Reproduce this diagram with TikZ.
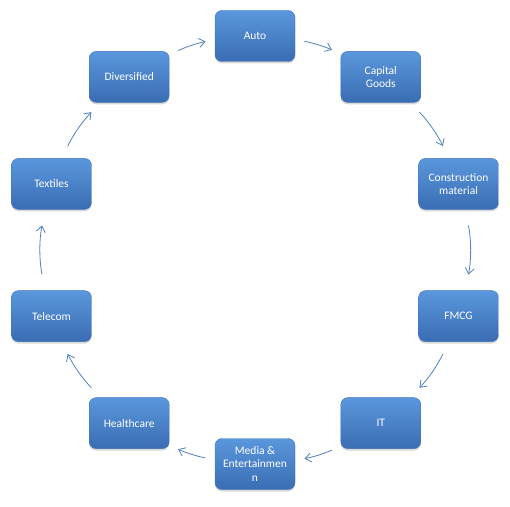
\documentclass[tikz,border=0pt]{standalone}
\usepackage{fontspec}
\setmainfont{Carlito}
\usetikzlibrary{arrows.meta, shadows}
\definecolor{boxtop}{HTML}{5A97DC}
\definecolor{boxbottom}{HTML}{3A6DB3}
\definecolor{boxline}{HTML}{3F74BA}
\definecolor{arrowblue}{HTML}{4F81BD}
\tikzstyle{sector} = [rectangle, rounded corners=7pt, minimum width=80pt, minimum height=51pt, outer sep=0pt, inner sep=2pt, align=center, text=white, font=\fontsize{11.5}{13.5}\selectfont, top color=boxtop, bottom color=boxbottom, draw=boxline, line width=0.4pt, drop shadow={shadow xshift=0pt, shadow yshift=-2pt, opacity=0.3}]
\tikzstyle{arrow} = [arrowblue, line width=0.8pt, -{Straight Barb[length=6pt,width=9pt]}]
\tikzstyle{shortarrow} = [arrow, bend left=6.4, shorten <=9.6pt, shorten >=9.6pt]
\tikzstyle{midarrow} = [arrow, bend left=9.1, shorten <=13.6pt, shorten >=13.6pt]
\tikzstyle{longarrow} = [arrow, bend left=10.9, shorten <=16.3pt, shorten >=16.3pt]

\begin{document}
\begin{tikzpicture}[x=1pt, y=1pt]
\useasboundingbox (-255,-256) rectangle (255,250);

% Nodes
\node (auto) [sector] at (90:214pt) {Auto};
\node (capg) [sector] at (54:214pt) {Capital\\Goods};
\node (constr) [sector] at (18:214pt) {Construction\\material};
\node (fmcg) [sector] at (-18:214pt) {FMCG};
\node (it) [sector] at (-54:214pt) {IT};
\node (media) [sector] at (-90:214pt) {Media \&\\Entertainmen\\n};
\node (health) [sector] at (-126:214pt) {Healthcare};
\node (telecom) [sector] at (-162:214pt) {Telecom};
\node (textiles) [sector] at (162:214pt) {Textiles};
\node (divers) [sector] at (126:214pt) {Diversified};

% Arrows
\draw [shortarrow] (auto.-5.4) to (capg.150.2);
\draw [midarrow] (capg.-41.2) to (constr.111.7);
\draw [longarrow] (constr.-75.5) to (fmcg.75.5);
\draw [midarrow] (fmcg.-111.7) to (it.41.2);
\draw [shortarrow] (it.-150.2) to (media.5.4);
\draw [shortarrow] (media.174.6) to (health.-29.8);
\draw [midarrow] (health.138.8) to (telecom.-68.3);
\draw [longarrow] (telecom.104.5) to (textiles.-104.5);
\draw [midarrow] (textiles.68.3) to (divers.-138.8);
\draw [shortarrow] (divers.29.8) to (auto.185.4);

\end{tikzpicture}
\end{document}
